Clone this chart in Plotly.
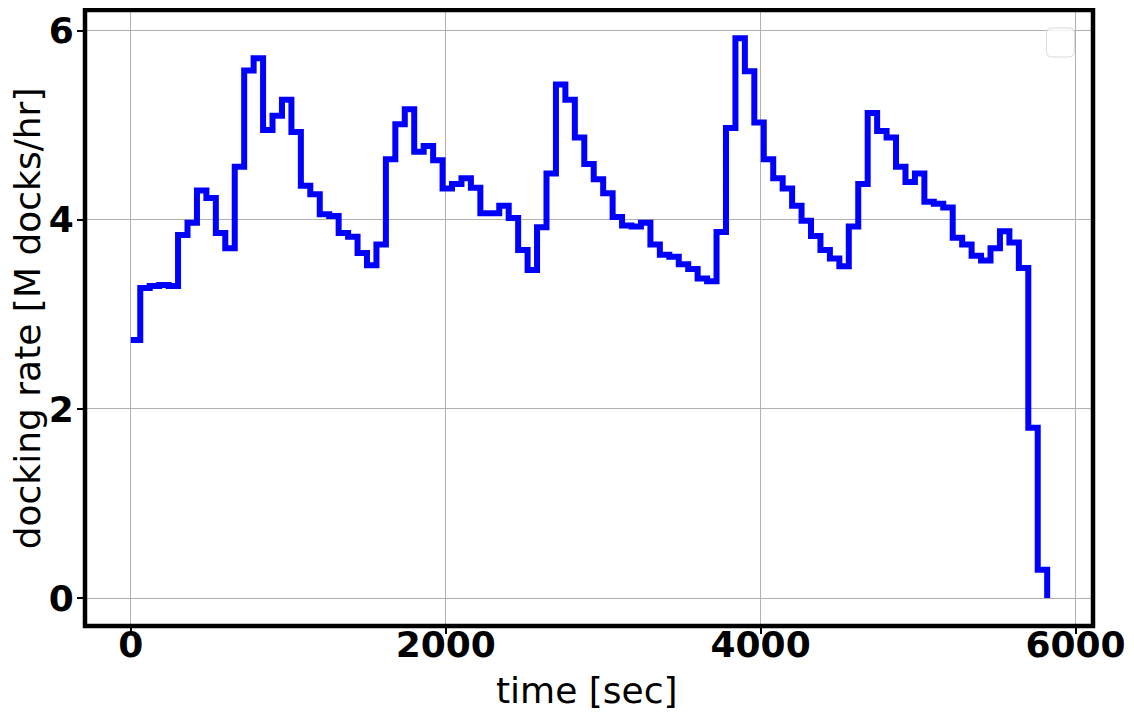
import plotly.graph_objects as go

# time at the start of each 60-second bin [sec]
time_sec = [0, 60, 120, 180, 240, 300, 360, 420, 480, 540,
            600, 660, 720, 780, 840, 900, 960, 1020, 1080, 1140,
            1200, 1260, 1320, 1380, 1440, 1500, 1560, 1620, 1680, 1740,
            1800, 1860, 1920, 1980, 2040, 2100, 2160, 2220, 2280, 2340,
            2400, 2460, 2520, 2580, 2640, 2700, 2760, 2820, 2880, 2940,
            3000, 3060, 3120, 3180, 3240, 3300, 3360, 3420, 3480, 3540,
            3600, 3660, 3720, 3780, 3840, 3900, 3960, 4020, 4080, 4140,
            4200, 4260, 4320, 4380, 4440, 4500, 4560, 4620, 4680, 4740,
            4800, 4860, 4920, 4980, 5040, 5100, 5160, 5220, 5280, 5340,
            5400, 5460, 5520, 5580, 5640, 5700, 5760, 5820]

# docking rate [M docks/hr]
docking_rate = [2.73, 3.28, 3.30, 3.31, 3.30, 3.84, 3.97, 4.31, 4.23, 3.86,
                3.70, 4.56, 5.58, 5.71, 4.95, 5.10, 5.27, 4.93, 4.36, 4.27,
                4.06, 4.04, 3.86, 3.82, 3.65, 3.52, 3.74, 4.64, 5.01, 5.17,
                4.72, 4.78, 4.63, 4.33, 4.38, 4.44, 4.34, 4.07, 4.07, 4.15,
                4.02, 3.68, 3.47, 3.92, 4.49, 5.43, 5.27, 4.87, 4.59, 4.43,
                4.28, 4.03, 3.94, 3.93, 3.97, 3.74, 3.63, 3.61, 3.53, 3.48,
                3.38, 3.35, 3.87, 4.97, 5.92, 5.57, 5.03, 4.64, 4.44, 4.33,
                4.15, 3.99, 3.83, 3.68, 3.59, 3.51, 3.93, 4.38, 5.13, 4.94,
                4.87, 4.56, 4.40, 4.49, 4.19, 4.17, 4.13, 3.81, 3.74, 3.62,
                3.57, 3.70, 3.88, 3.76, 3.49, 1.80, 0.30, 0.00]

x_ticks = [0, 2000, 4000, 6000]
y_ticks = [0, 2, 4, 6]
x_title = "time [sec]"
y_title = "docking rate [M docks/hr]"

fig = go.Figure()
fig.add_trace(go.Scatter(
    x=time_sec, y=docking_rate, mode="lines",
    line=dict(color="#0000ff", width=6, shape="hv"),
    showlegend=False, hoverinfo="skip",
))

tickfont = dict(family="DejaVu Sans", size=36, color="black", weight="bold")
titlefont = dict(family="DejaVu Sans", size=36, color="black")

# the page body has an 8 px margin, so the figure is sized/offset to compensate
fig.update_layout(
    width=1126, height=711,
    margin=dict(l=77, r=41, t=2, b=93),
    paper_bgcolor="white", plot_bgcolor="white",
    xaxis=dict(
        range=[-291, 6111], tickvals=x_ticks, ticktext=[str(v) for v in x_ticks],
        showgrid=True, gridcolor="#b0b0b0", gridwidth=1, zeroline=False,
        ticks="outside", ticklen=7, tickwidth=1.5, tickcolor="black",
        tickfont=tickfont, showline=False, automargin=False,
        ticklabelstandoff=-20,
    ),
    yaxis=dict(
        range=[-0.296, 6.219], tickvals=y_ticks, ticktext=[str(v) for v in y_ticks],
        showgrid=True, gridcolor="#b0b0b0", gridwidth=1, zeroline=False,
        ticks="outside", ticklen=7, tickwidth=1.5, tickcolor="black",
        tickfont=tickfont, showline=False, automargin=False,
        ticklabelstandoff=-4,
    ),
    showlegend=False,
    annotations=[
        dict(text=x_title, xref="paper", yref="paper", x=0.4985, y=-0.1039,
             xanchor="center", yanchor="middle", showarrow=False, font=titlefont),
        dict(text=y_title, xref="paper", yref="paper", x=-0.0572, y=0.5,
             xanchor="center", yanchor="middle", showarrow=False, font=titlefont,
             textangle=-90, borderpad=0),
    ],
)

# axes frame
fig.add_shape(type="rect", xref="paper", yref="paper", x0=0, x1=1, y0=0, y1=1,
              line=dict(color="black", width=4.5), layer="above")

# empty legend box (rounded) in upper right
x0, x1, y0, y1 = 0.9538, 0.9815, 0.9237, 0.9708
rx, ry = 0.0055, 0.009
path = (f"M {x0+rx},{y0} L {x1-rx},{y0} Q {x1},{y0} {x1},{y0+ry} "
        f"L {x1},{y1-ry} Q {x1},{y1} {x1-rx},{y1} L {x0+rx},{y1} "
        f"Q {x0},{y1} {x0},{y1-ry} L {x0},{y0+ry} Q {x0},{y0} {x0+rx},{y0} Z")
fig.add_shape(type="path", xref="paper", yref="paper", path=path,
              line=dict(color="#d9d9d9", width=1), fillcolor="rgba(255,255,255,0.8)",
              layer="above")

fig.write_html("out.html")
